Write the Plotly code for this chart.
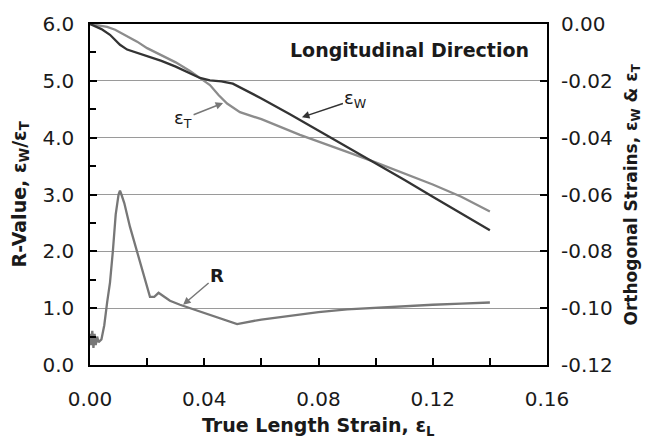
import plotly.graph_objects as go

# R-value curve (left axis)
strain_R = [0.000, 0.0004, 0.0008, 0.0012, 0.0016, 0.002, 0.0025, 0.003, 0.004, 0.005, 0.006, 0.007,
            0.008, 0.009, 0.010, 0.0105, 0.011, 0.012, 0.014, 0.0175, 0.020, 0.021, 0.0225, 0.024,
            0.026, 0.028, 0.0315, 0.035, 0.040, 0.045, 0.0515, 0.060, 0.070, 0.080, 0.090, 0.100,
            0.110, 0.120, 0.130, 0.140]
R_value = [0.55, 0.35, 0.6, 0.3, 0.55, 0.35, 0.5, 0.4, 0.45, 0.7, 1.1, 1.45,
           2.0, 2.65, 3.0, 3.07, 3.0, 2.85, 2.43, 1.8, 1.35, 1.2, 1.2, 1.27,
           1.2, 1.13, 1.06, 1.0, 0.92, 0.84, 0.72, 0.8, 0.87, 0.93, 0.98, 1.01,
           1.04, 1.06, 1.08, 1.1]

# Orthogonal strains (right axis)
strain_W = [0.000, 0.002, 0.004, 0.007, 0.0105, 0.013, 0.016, 0.021, 0.025, 0.030, 0.035, 0.0385,
            0.042, 0.046, 0.050, 0.055, 0.060, 0.070, 0.080, 0.090, 0.100, 0.110, 0.120, 0.130, 0.140]
eps_W = [0.0, -0.0008, -0.0018, -0.0038, -0.0073, -0.0090, -0.0100, -0.0114, -0.0130, -0.0150,
         -0.0172, -0.0190, -0.0198, -0.0202, -0.0210, -0.0235, -0.0262, -0.0318, -0.0375, -0.0432,
         -0.0490, -0.0548, -0.0608, -0.0667, -0.0726]

strain_T = [0.000, 0.003, 0.006, 0.0088, 0.012, 0.0165, 0.020, 0.0245, 0.030, 0.035, 0.0385, 0.042,
            0.045, 0.048, 0.0525, 0.060, 0.0735, 0.080, 0.090, 0.100, 0.110, 0.120, 0.130, 0.140]
eps_T = [0.0, -0.0005, -0.0010, -0.0020, -0.0038, -0.0062, -0.0085, -0.0108, -0.0135, -0.0165,
         -0.0190, -0.0215, -0.0250, -0.0280, -0.0310, -0.0335, -0.0390, -0.0413, -0.0450, -0.0487,
         -0.0525, -0.0565, -0.0608, -0.0660]

x_ticks = [0.00, 0.04, 0.08, 0.12, 0.16]
left_ticks = [0.0, 1.0, 2.0, 3.0, 4.0, 5.0, 6.0]
right_ticks = [0.00, -0.02, -0.04, -0.06, -0.08, -0.10, -0.12]

FONT = "DejaVu Sans, Arial, sans-serif"
TXT = "#1a1a1a"

fig = go.Figure()
fig.add_trace(go.Scatter(x=strain_R, y=R_value, mode="lines",
                         line=dict(color="#777777", width=2.3), yaxis="y"))
fig.add_trace(go.Scatter(x=strain_T, y=eps_T, mode="lines",
                         line=dict(color="#8c8c8c", width=2.3), yaxis="y2"))
fig.add_trace(go.Scatter(x=strain_W, y=eps_W, mode="lines",
                         line=dict(color="#333333", width=2.3), yaxis="y2"))

fig.update_layout(
    width=646, height=443,
    margin=dict(l=90, r=99, t=22, b=78),
    paper_bgcolor="white", plot_bgcolor="white",
    showlegend=False,
    font=dict(family=FONT, color=TXT),
    xaxis=dict(range=[0, 0.16], tickvals=x_ticks, ticktext=[f"{v:.2f}" for v in x_ticks],
               ticks="inside", ticklen=7, tickcolor="black", tickwidth=1.5,
               minor=dict(dtick=0.02, ticks="inside", ticklen=7, tickcolor="black", tickwidth=1.5),
               showgrid=False, zeroline=False,
               showline=True, linecolor="black", linewidth=1.5, mirror=True,
               tickfont=dict(size=20, color=TXT), ticklabelstandoff=15),
    yaxis=dict(range=[0, 6], tickvals=left_ticks, ticktext=[f"{v:.1f}" for v in left_ticks],
               ticks="inside", ticklen=7, tickcolor="black", tickwidth=1.5,
               minor=dict(dtick=0.5, ticks="inside", ticklen=6, tickcolor="black", tickwidth=1.5, showgrid=False),
               showgrid=True, gridcolor="#9a9a9a", gridwidth=1.2, zeroline=False,
               showline=True, linecolor="black", linewidth=1.5, mirror=True,
               tickfont=dict(size=20, color=TXT), ticklabelstandoff=10),
    yaxis2=dict(range=[-0.12, 0], tickvals=right_ticks, ticktext=[f"{v:.2f}" for v in right_ticks],
                overlaying="y", side="right",
                ticks="inside", ticklen=7, tickcolor="black", tickwidth=1.5,
                showgrid=False, zeroline=False, showline=False,
                tickfont=dict(size=20, color=TXT), ticklabelstandoff=13),
)

# axis titles
fig.add_annotation(x=0.5, y=0, xref="paper", yref="paper", yshift=-61, yanchor="middle",
                   text="<b>True Length Strain, ε<sub>L</sub></b>", showarrow=False,
                   font=dict(size=19, color=TXT))
fig.add_annotation(x=0, y=0.5, xref="paper", yref="paper", xshift=-70, xanchor="center",
                   textangle=-90, text="<b>R-Value, ε<sub>W</sub>/ε<sub>T</sub></b>", showarrow=False,
                   font=dict(size=19, color=TXT))
fig.add_annotation(x=1, y=0.5, xref="paper", yref="paper", xshift=85, xanchor="center",
                   textangle=-90, text="<b>Orthogonal Strains, ε<sub>W</sub> & ε<sub>T</sub></b>", showarrow=False,
                   font=dict(size=17, color=TXT))

fig.add_annotation(x=0.112, y=5.55, xref="x", yref="y", text="<b>Longitudinal Direction</b>",
                   showarrow=False, font=dict(size=19, color=TXT))
fig.add_annotation(x=0.0466, y=4.61, xref="x", yref="y", text="ε<sub>T</sub>",
                   showarrow=True, ax=-40, ay=16, arrowhead=2, arrowsize=1, arrowwidth=1.5,
                   arrowcolor="#777777", font=dict(size=18, color=TXT))
fig.add_annotation(x=0.0742, y=4.36, xref="x", yref="y", text="ε<sub>W</sub>",
                   showarrow=True, ax=54, ay=-18, arrowhead=2, arrowsize=1, arrowwidth=1.5,
                   arrowcolor="#333333", font=dict(size=18, color=TXT))
fig.add_annotation(x=0.0326, y=1.06, xref="x", yref="y", text="<b>R</b>",
                   showarrow=True, ax=34, ay=-29, arrowhead=2, arrowsize=1, arrowwidth=1.5,
                   arrowcolor="#777777", font=dict(size=18, color=TXT))

fig.write_html("out.html")
